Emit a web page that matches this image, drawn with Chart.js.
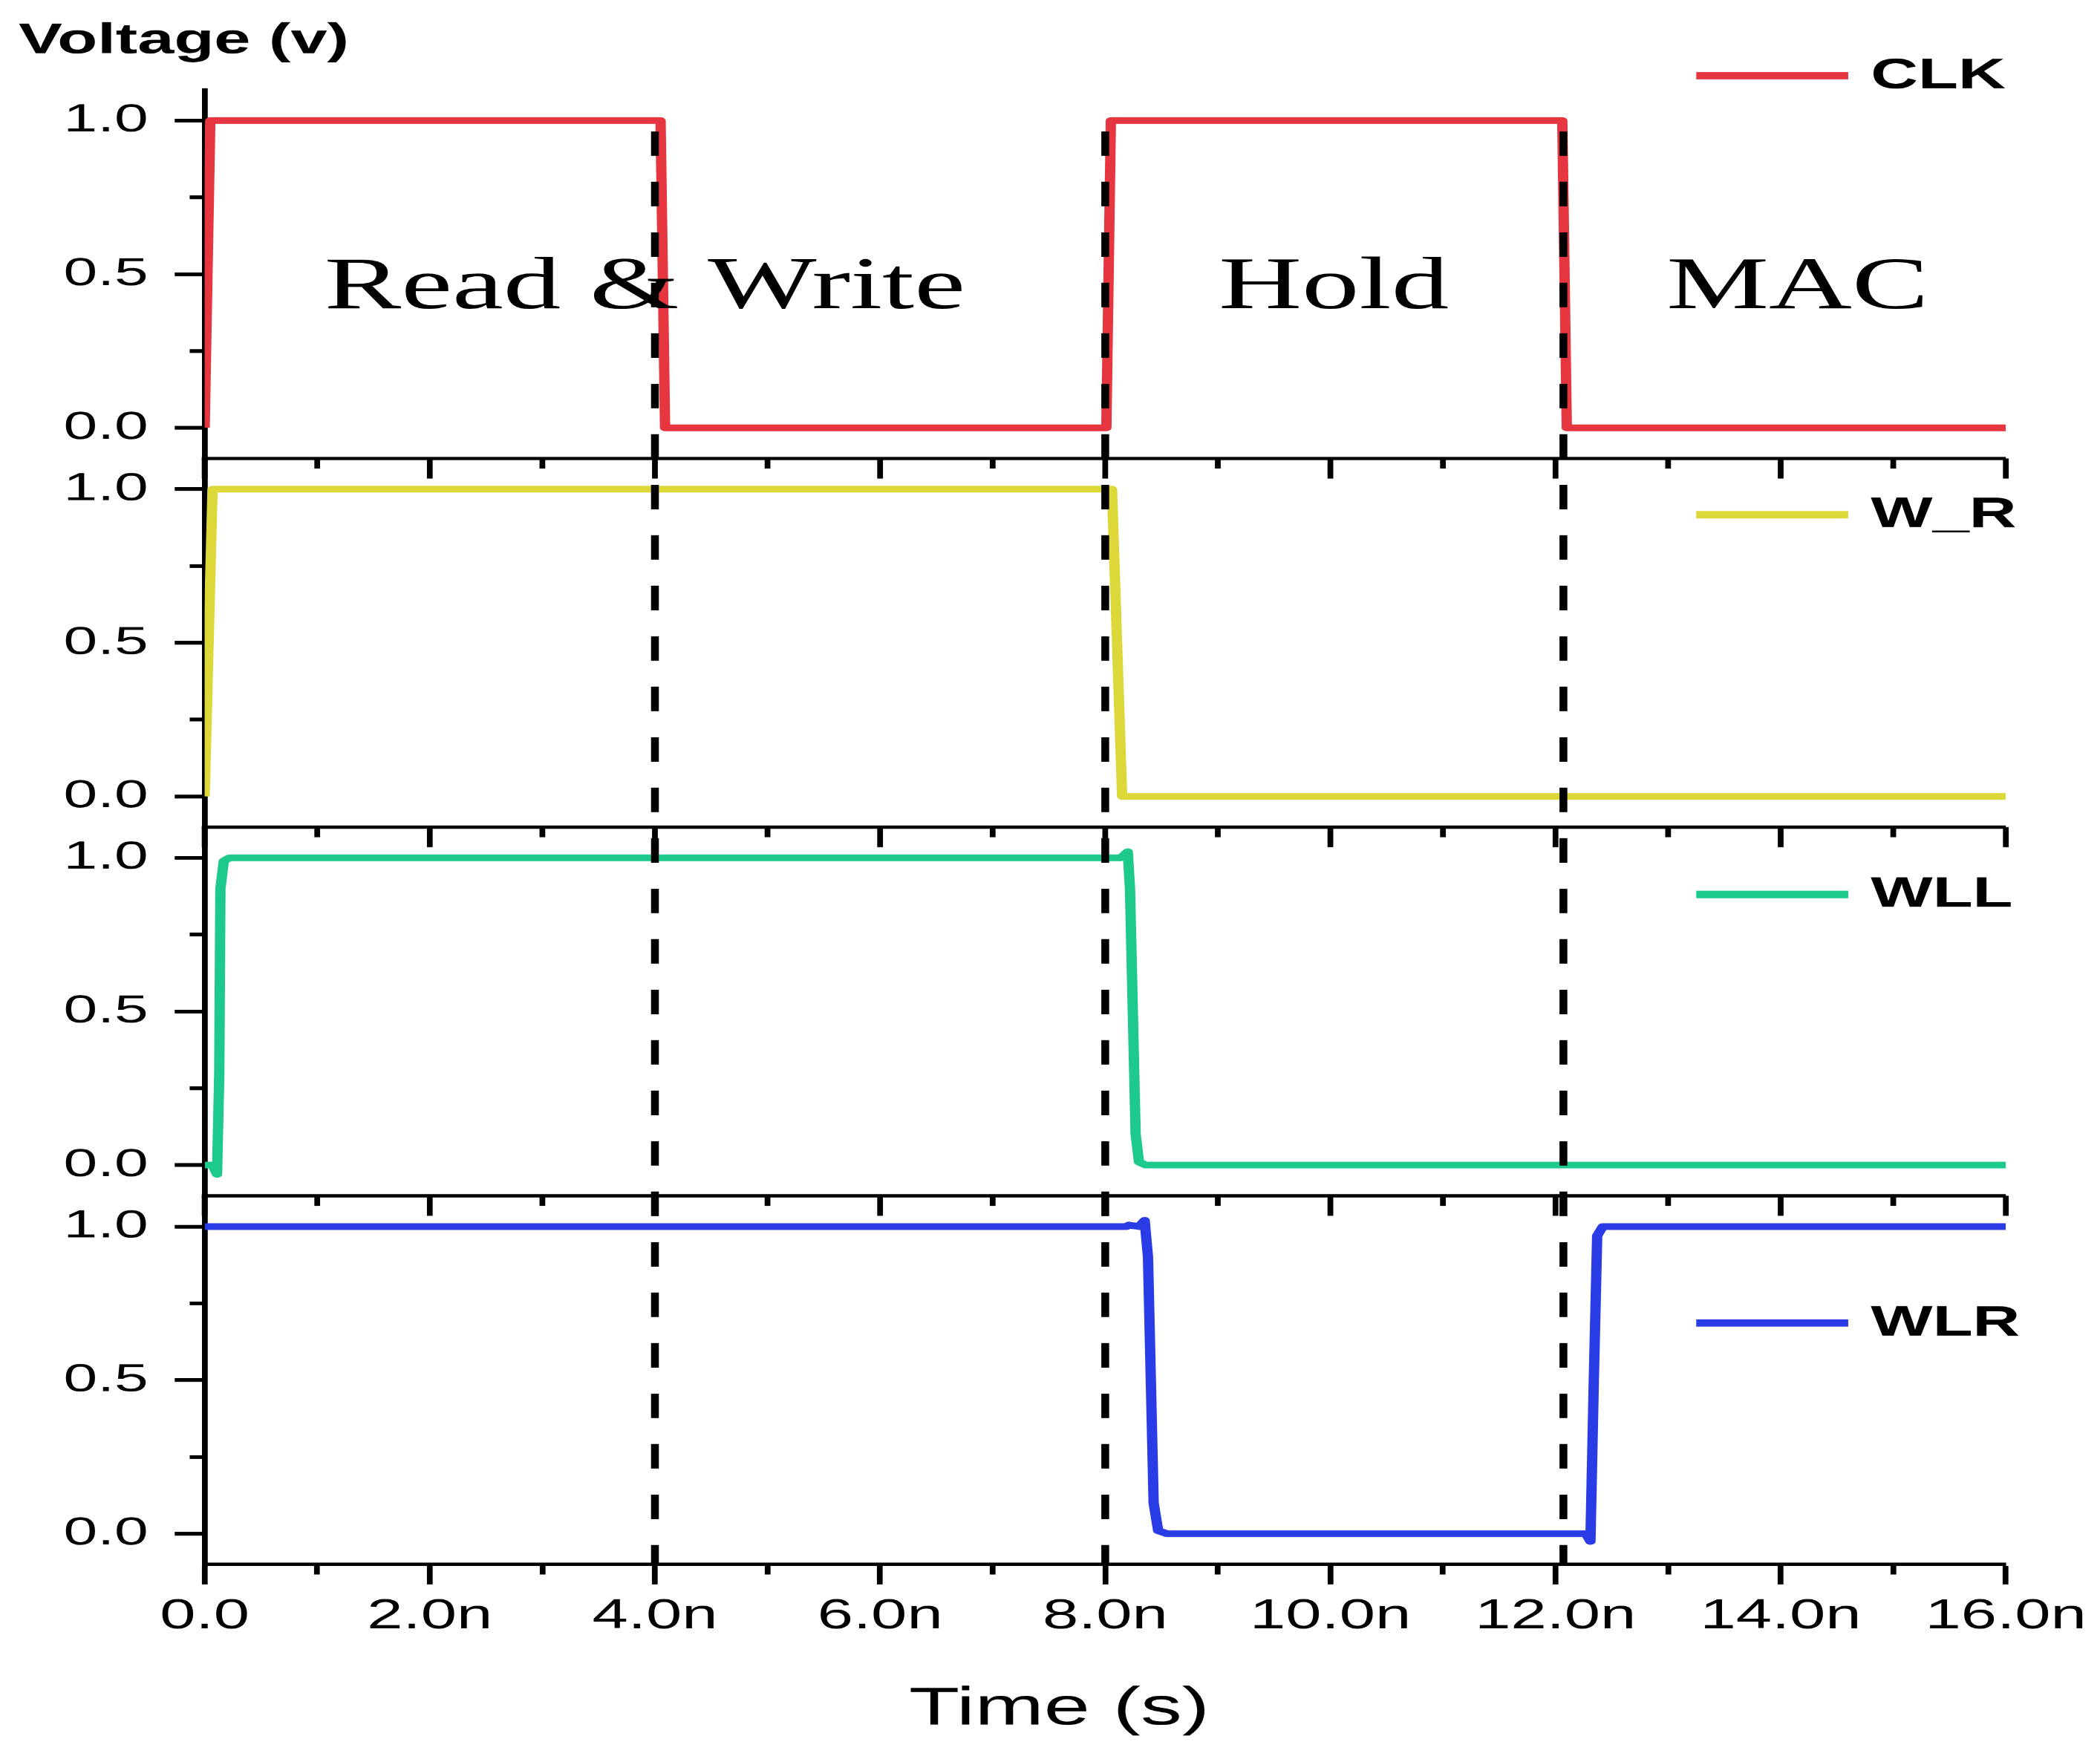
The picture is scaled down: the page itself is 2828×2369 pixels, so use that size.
<!DOCTYPE html>
<html>
<head>
<meta charset="utf-8">
<title>Voltage waveforms</title>
<script src="https://cdn.jsdelivr.net/npm/chart.js@4.4.1/dist/chart.umd.min.js"></script>
<style>
  html, body { margin: 0; padding: 0; background: #fff; overflow: hidden; }
  /* the source figure is stretched sideways, so draw it narrow and widen the whole canvas */
  #wrap { position: absolute; left: 0; top: 0; width: 1825px; height: 2369px; transform: scaleX(1.549589); transform-origin: 0 0; }
</style>
</head>
<body>
<div id="wrap"><canvas id="chart"></canvas></div>
<script>
// time in ns, voltage in V
const clkTime = [0, 0.05, 4.05, 4.09, 8.01, 8.05, 12.06, 12.1, 16];
const clkVolt = [0, 1, 1, 0, 0, 1, 1, 0, 0];

const wrTime = [0, 0.07, 8.06, 8.15, 16];
const wrVolt = [0, 1, 1, 0, 0];

const wllTime = [0, 0.07, 0.11, 0.13, 0.14, 0.17, 0.22, 8.14, 8.2, 8.22, 8.27, 8.3, 8.36, 16];
const wllVolt = [0, 0, -0.03, 0.3, 0.9, 0.99, 1, 1, 1.02, 0.9, 0.1, 0.01, 0, 0];

const wlrTime = [0, 8.19, 8.21, 8.3, 8.35, 8.38, 8.43, 8.47, 8.55, 12.27, 12.31, 12.34, 12.37, 12.42, 16];
const wlrVolt = [1, 1, 1.005, 1, 1.02, 0.9, 0.1, 0.01, 0, 0, -0.025, 0.5, 0.97, 1, 1];

const seriesNames = ['CLK', 'W_R', 'WLL', 'WLR'];
const seriesTimes = [clkTime, wrTime, wllTime, wlrTime];
const seriesVolts = [clkVolt, wrVolt, wllVolt, wlrVolt];
const seriesColors = ['#e6363f', '#dcd83a', '#1ec98c', '#2a3ce6'];

const timeTicks = [0, 1, 2, 3, 4, 5, 6, 7, 8, 9, 10, 11, 12, 13, 14, 15, 16];
const voltTicks = [0, 0.25, 0.5, 0.75, 1.0];

// phase markers (dashed lines) and the words written in the top panel
const phaseBoundaries = [4.0, 8.0, 12.07];
const phaseNames = ['Read & Write', 'Hold', 'MAC'];
const phaseNameTimes = [3.91, 10.03, 14.15];

// where each legend entry sits, in volts of its own panel
const legendLevels = [1.146, 0.917, 0.881, 0.686];

const sans = '"Liberation Sans", Arial, sans-serif';
const serif = '"Liberation Serif", "Times New Roman", serif';
const panelIds = ['y1', 'y2', 'y3', 'y4'];

const isMajorVolt = v => Math.abs(v * 2 - Math.round(v * 2)) < 1e-6;
const isMajorTime = v => v % 2 === 0;

function panelAxis(weight) {
  return {
    type: 'linear',
    position: 'left',
    stack: 'panels',
    stackWeight: 1,
    weight: weight,
    min: -0.1,
    max: 1.1,
    afterBuildTicks: s => { s.ticks = voltTicks.map(v => ({ value: v })); },
    afterFit: s => { s.width = 161.7; s.paddingTop = 0; s.paddingBottom = 0; },
    border: { color: '#000', width: 5 },
    grid: {
      drawOnChartArea: false,
      tickLength: 26,
      tickWidth: 5,
      tickColor: '#000',
      // minor ticks: only the inner half of the mark is inked
      tickBorderDash: c => (c.tick && !isMajorVolt(c.tick.value)) ? [0, 13, 20, 0] : []
    },
    ticks: {
      padding: 23,
      color: '#000',
      font: { family: sans, size: 53 },
      callback: v => isMajorVolt(v) ? v.toFixed(1) : ''
    }
  };
}

function strokeLine(ctx, x1, y1, x2, y2) {
  ctx.beginPath();
  ctx.moveTo(x1, y1);
  ctx.lineTo(x2, y2);
  ctx.stroke();
}

const overlay = {
  id: 'overlay',
  afterDatasetsDraw(chart) {
    const { ctx, chartArea, scales } = chart;
    const x = scales.x;
    ctx.save();

    // separators between the stacked panels, ticks pointing down like the time axis
    ctx.strokeStyle = '#000';
    for (const id of panelIds) {
      const top = scales[id].top;
      if (top <= chartArea.top + 1) continue;
      ctx.lineWidth = 4.5;
      strokeLine(ctx, chartArea.left - 2.5, top, chartArea.right, top);
      ctx.lineWidth = 5;
      for (const t of timeTicks) {
        const px = x.getPixelForValue(t);
        strokeLine(ctx, px, top, px, top + (isMajorTime(t) ? 27 : 13.5));
      }
    }

    // dashed phase boundaries through all panels
    ctx.lineWidth = 6.8;
    ctx.setLineDash([33, 35]);
    const yStart = scales.y1.getPixelForValue(0.965);
    for (const t of phaseBoundaries) {
      const px = x.getPixelForValue(t);
      strokeLine(ctx, px, yStart, px, chartArea.bottom);
    }
    ctx.setLineDash([]);

    // phase names
    ctx.fillStyle = '#000';
    ctx.font = '100px ' + serif;
    ctx.textAlign = 'center';
    ctx.textBaseline = 'alphabetic';
    const baseY = scales.y1.getPixelForValue(0.39);
    phaseNames.forEach((name, i) => {
      ctx.fillText(name, x.getPixelForValue(phaseNameTimes[i]), baseY);
    });

    // one legend entry per panel
    ctx.font = 'bold 57px ' + sans;
    ctx.textAlign = 'left';
    ctx.textBaseline = 'middle';
    seriesNames.forEach((name, i) => {
      const y = scales[panelIds[i]].getPixelForValue(legendLevels[i]);
      ctx.strokeStyle = seriesColors[i];
      ctx.lineWidth = 10;
      strokeLine(ctx, x.getPixelForValue(13.25), y, x.getPixelForValue(14.6), y);
      ctx.fillText(name, x.getPixelForValue(14.8), y + 1);
    });

    ctx.restore();
  }
};

const datasets = seriesNames.map((name, i) => ({
  label: name,
  data: seriesTimes[i].map((t, k) => ({ x: t, y: seriesVolts[i][k] })),
  yAxisID: panelIds[i],
  borderColor: seriesColors[i],
  borderWidth: 9,
  borderJoinStyle: 'round',
  pointRadius: 0,
  tension: 0,
  fill: false
}));

new Chart(document.getElementById('chart'), {
  type: 'line',
  data: { datasets },
  plugins: [overlay],
  options: {
    responsive: true,
    maintainAspectRatio: false,
    devicePixelRatio: 1.55,
    animation: false,
    events: [],
    layout: { padding: { left: 16.1, right: 82.3, top: 0, bottom: 0 } },
    plugins: {
      legend: { display: false },
      tooltip: { enabled: false },
      title: {
        display: true,
        text: 'Voltage (v)',
        align: 'start',
        color: '#000',
        font: { family: sans, size: 57, weight: 'bold' },
        padding: { top: 22, bottom: 30.6 }
      }
    },
    scales: {
      x: {
        type: 'linear',
        position: 'bottom',
        min: 0,
        max: 16,
        afterBuildTicks: s => { s.ticks = timeTicks.map(v => ({ value: v })); },
        afterFit: s => { s.height = 262; s.paddingLeft = 0; s.paddingRight = 0; },
        border: { color: '#000', width: 4.5 },
        grid: {
          drawOnChartArea: false,
          tickLength: 27,
          tickWidth: 5,
          tickColor: '#000',
          tickBorderDash: c => (c.tick && !isMajorTime(c.tick.value)) ? [11.5, 60] : []
        },
        ticks: {
          padding: 10,
          color: '#000',
          autoSkip: false,
          maxRotation: 0,
          minRotation: 0,
          font: { family: sans, size: 56 },
          callback: v => !isMajorTime(v) ? '' : (v === 0 ? '0.0' : v.toFixed(1) + 'n')
        },
        title: {
          display: true,
          text: 'Time (s)' + '\u00a0'.repeat(4),
          color: '#000',
          font: { family: sans, size: 72 },
          padding: { top: 0, bottom: 23 }
        }
      },
      y1: panelAxis(4),
      y2: panelAxis(3),
      y3: panelAxis(2),
      y4: panelAxis(1)
    }
  }
});
</script>
</body>
</html>
